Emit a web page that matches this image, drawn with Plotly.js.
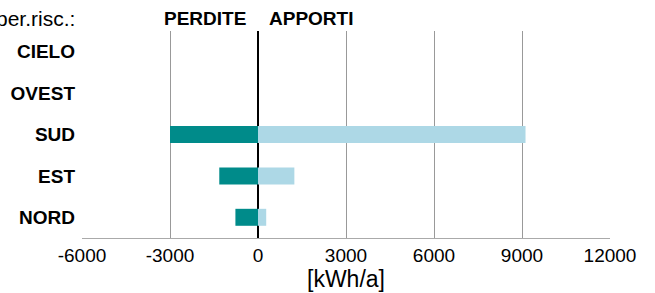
<!DOCTYPE html>
<html><head><meta charset="utf-8">
<script src="https://cdn.plot.ly/plotly-3.0.1.min.js"></script>
<style>html,body{margin:0;padding:0;background:#fff}#c{width:655px;height:293px}</style>
</head><body><div id="c"></div>
<script>
const categories = ["NORD", "EST", "SUD", "OVEST", "CIELO"];
const perdite = [-770, -1320, -3000, 0, 0];
const apporti = [280, 1240, 9120, 0, 0];
const xTicks = [-6000, -3000, 0, 3000, 6000, 9000, 12000];

const font = "'Liberation Sans', Arial, sans-serif";
const traces = [
  {type: "bar", orientation: "h", y: categories, x: perdite, name: "PERDITE",
   marker: {color: "#008b8a"}, hoverinfo: "skip"},
  {type: "bar", orientation: "h", y: categories, x: apporti, name: "APPORTI",
   marker: {color: "#add8e6"}, hoverinfo: "skip"}
];
const layout = {
  width: 655, height: 293,
  margin: {l: 82, r: 45, t: 31, b: 55, pad: 0},
  paper_bgcolor: "#fff", plot_bgcolor: "#fff",
  barmode: "relative", bargap: 0.59,
  showlegend: false,
  font: {family: font, color: "#000"},
  xaxis: {
    range: [-6000, 12000], tickvals: xTicks, ticktext: xTicks.map(String),
    showgrid: true, gridcolor: "#999", gridwidth: 1,
    zeroline: true, zerolinecolor: "#000", zerolinewidth: 2,
    showline: true, linecolor: "#aaa", linewidth: 1,
    ticks: "", tickfont: {size: 19, family: font, color: "#000"},
    title: {text: "[kWh/a]", font: {size: 23, family: font, color: "#000"}, standoff: 2},
    fixedrange: true
  },
  yaxis: {
    categoryorder: "array", categoryarray: categories,
    showgrid: false, zeroline: false, showline: false, ticks: "",
    ticklabelstandoff: 6,
    tickfont: {size: 19, family: font, color: "#000", weight: "bold"},
    fixedrange: true
  },
  annotations: [
    {xref: "paper", yref: "paper", x: 0, y: 1, yshift: 13, xshift: -5, xanchor: "right", yanchor: "middle",
     text: "per.risc.:", showarrow: false, font: {size: 21, family: font, color: "#000"}},
    {xref: "x", yref: "paper", x: 0, y: 1, yshift: 13, xshift: -10, xanchor: "right", yanchor: "middle",
     text: "<b>PERDITE</b>", showarrow: false, font: {size: 19, family: font, color: "#000"}},
    {xref: "x", yref: "paper", x: 0, y: 1, yshift: 13, xshift: 9, xanchor: "left", yanchor: "middle",
     text: "<b>APPORTI</b>", showarrow: false, font: {size: 19, family: font, color: "#000"}}
  ]
};
Plotly.newPlot("c", traces, layout, {staticPlot: true, displayModeBar: false});
</script></body></html>
